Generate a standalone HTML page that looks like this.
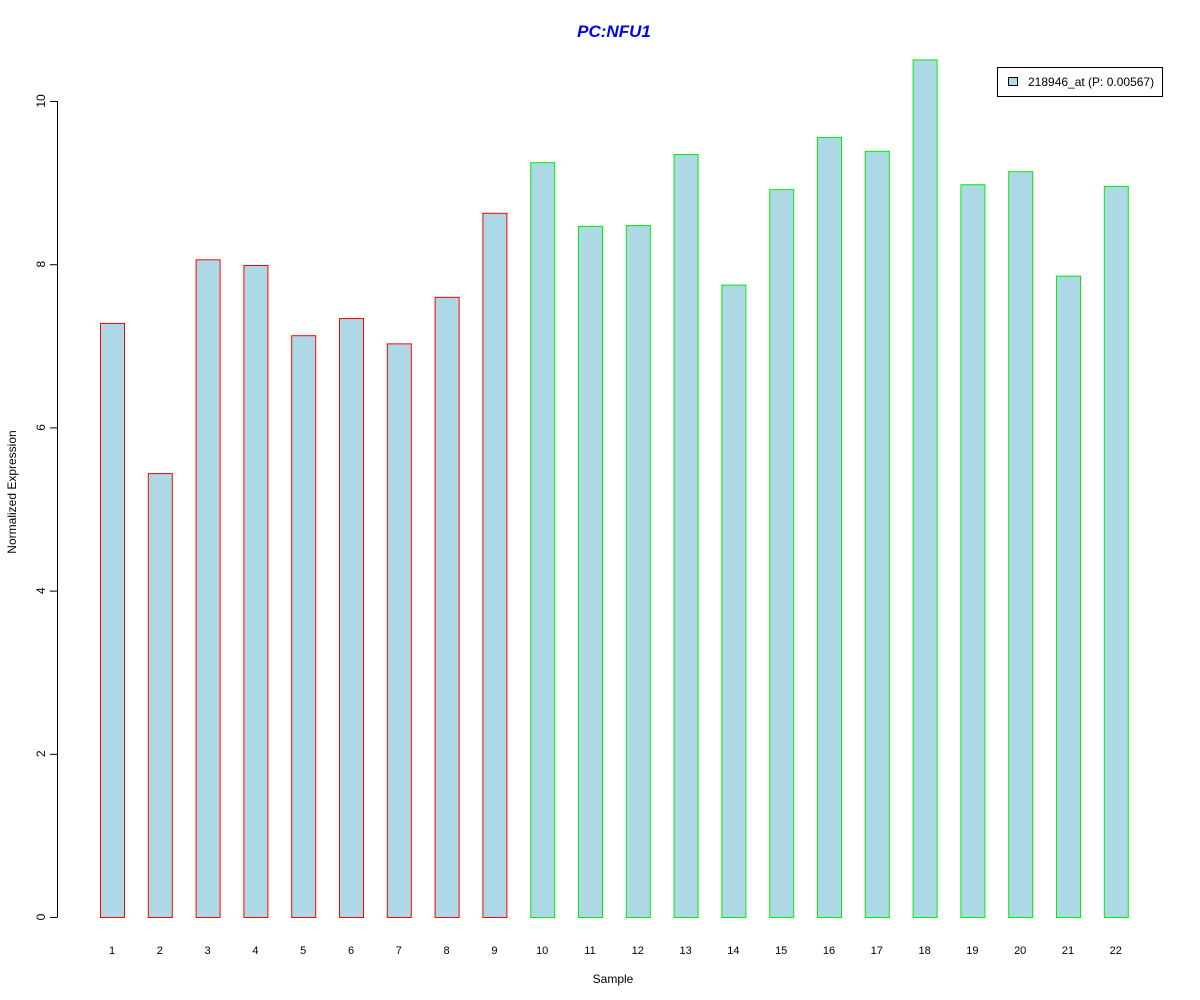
<!DOCTYPE html>
<html><head><meta charset="utf-8"><style>
body{margin:0;background:#fff;}
svg{display:block;font-family:"Liberation Sans",sans-serif;}
</style></head><body>
<svg id="chart" width="1200" height="1000">
<rect width="1200" height="1000" fill="#fff"/>
<text x="614" y="37" text-anchor="middle" font-size="17" font-weight="bold" font-style="italic" fill="#0000ee">PC:NFU1</text>
<g id="yaxis"></g>
<g id="bars"></g>
<g id="xlabels"></g>
<text x="613" y="983" text-anchor="middle" font-size="12">Sample</text>
<text transform="translate(16,492) rotate(-90)" text-anchor="middle" font-size="12">Normalized Expression</text>
<g>
<rect x="997.5" y="67.5" width="165" height="29" fill="#fff" stroke="#000"/>
<rect x="1008.5" y="77.5" width="9" height="8" fill="#add8e6" stroke="#000"/>
<text x="1028" y="86" font-size="12">218946_at (P: 0.00567)</text>
</g>
</svg>
<script>
const categories = ["1","2","3","4","5","6","7","8","9","10","11","12","13","14","15","16","17","18","19","20","21","22"];
const values = [7.28,5.44,8.06,7.99,7.13,7.34,7.03,7.60,8.63,9.25,8.47,8.48,9.35,7.75,8.92,9.56,9.39,10.51,8.98,9.14,7.86,8.96];
const groups = ["a","a","a","a","a","a","a","a","a","b","b","b","b","b","b","b","b","b","b","b","b","b"];
const yTicks = [0,2,4,6,8,10];
const NS="http://www.w3.org/2000/svg";
const y = v => 917 - v*81.6;
const x = i => 112 + i*47.8;
function mk(tag, attrs){const e=document.createElementNS(NS,tag);for(const k in attrs)e.setAttribute(k,attrs[k]);return e;}
const ya=document.getElementById('yaxis');
ya.appendChild(mk('line',{x1:57.5,x2:57.5,y1:y(10),y2:y(0),stroke:'#000'}));
yTicks.forEach(t=>{
  const l=mk('line',{x1:50,x2:57.5,y1:y(t)+0.5,y2:y(t)+0.5,stroke:'#000'});
  
  
  ya.appendChild(l);
  const tx=mk('text',{transform:`translate(45,${y(t)}) rotate(-90)`,'text-anchor':'middle','font-size':12});
  tx.textContent=t;
  
  
  ya.appendChild(tx);
});
const bg=document.getElementById('bars'), xl=document.getElementById('xlabels');
values.forEach((v,i)=>{
  const r=mk('rect',{x:x(i)-12+0.5,y:y(v)+0.5,width:24,height:y(0)-y(v),fill:'#add8e6',stroke:groups[i]==='a'?'#ff0000':'#00ee00'});
  
  
  bg.appendChild(r);
  const t=mk('text',{x:x(i),y:954,'text-anchor':'middle','font-size':11});
  t.textContent=categories[i];
  
  
  xl.appendChild(t);
});
</script>
</body></html>
